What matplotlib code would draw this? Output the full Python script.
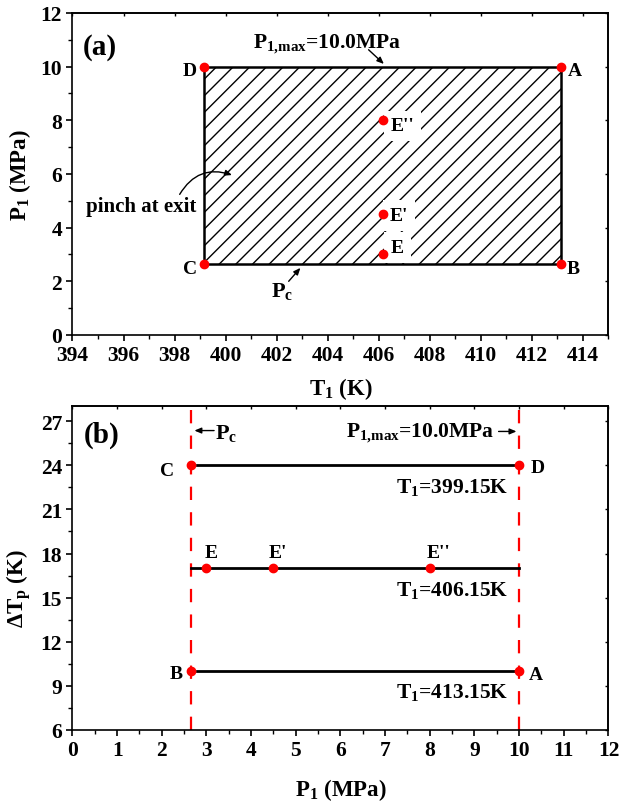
import matplotlib
matplotlib.use("Agg")
import matplotlib.pyplot as plt
from matplotlib.patches import Rectangle
from matplotlib.ticker import MultipleLocator

plt.rcParams['font.family'] = ['Liberation Serif', 'DejaVu Serif']
plt.rcParams['font.weight'] = 'bold'
plt.rcParams['mathtext.fontset'] = 'custom'
plt.rcParams['mathtext.rm'] = 'Liberation Serif:bold'
plt.rcParams['mathtext.it'] = 'Liberation Serif:bold'
plt.rcParams['mathtext.bf'] = 'Liberation Serif:bold'
plt.rcParams['hatch.linewidth'] = 1.0

# ---- data ----
point_labels = ['A', 'B', 'C', 'D', 'E', "E'", "E''"]
T1_values = [413.15, 413.15, 399.15, 399.15, 406.15, 406.15, 406.15]   # K
P1_values = [10.0, 2.65, 2.65, 10.0, 3.0, 4.5, 8.0]                    # MPa
dTp_values = [10, 10, 24, 24, 17, 17, 17]                              # K
P_c = 2.65
P_max = 10.0
T1_lines = [399.15, 406.15, 413.15]
dTp_lines = [24, 17, 10]
line_start = [2.78, 2.65, 2.78]

fig = plt.figure(figsize=(6.19, 8.03), dpi=100)
axA = fig.add_axes([0.1171, 0.5816, 0.8659, 0.4010])
axB = fig.add_axes([0.1171, 0.0897, 0.8659, 0.4029])

TICK_FS = 15.5
ANN = dict(arrowstyle='-|>,head_length=0.4,head_width=0.17', color='black',
           lw=1.0, shrinkA=0, shrinkB=0)
PMAX_TXT = r'P$_{1{,}max}$=10.0MPa'


def style(ax, xmaj, xmin, ymaj, ymin):
    ax.xaxis.set_major_locator(MultipleLocator(xmaj))
    ax.xaxis.set_minor_locator(MultipleLocator(xmin))
    ax.yaxis.set_major_locator(MultipleLocator(ymaj))
    ax.yaxis.set_minor_locator(MultipleLocator(ymin))
    for s in ax.spines.values():
        s.set_linewidth(1.2)
    ax.tick_params(which='major', direction='out', length=4.5, width=1.2,
                   labelsize=TICK_FS, pad=3)
    ax.tick_params(which='minor', direction='out', length=2.8, width=1.0)
    # small ticks on top and right spines
    top = ax.secondary_xaxis('top')
    top.xaxis.set_major_locator(MultipleLocator(xmaj))
    top.tick_params(which='major', direction='in', length=2.0, width=1.0,
                    labeltop=False)
    right = ax.secondary_yaxis('right')
    right.yaxis.set_major_locator(MultipleLocator(ymaj))
    right.tick_params(which='major', direction='in', length=2.0, width=1.0,
                      labelright=False)
    for sec in (top, right):
        for s in sec.spines.values():
            s.set_linewidth(1.2)


# ---------------- panel (a) ----------------
axA.set_xlim(394, 415)
axA.set_ylim(0, 12)
style(axA, 2, 1, 2, 1)

Tmin, Tmax = min(T1_values), max(T1_values)
rect = Rectangle((Tmin, P_c), Tmax - Tmin, P_max - P_c, fill=False,
                 hatch='//', edgecolor='black', linewidth=1.8, zorder=2)
axA.add_patch(rect)
axA.plot(T1_values, P1_values, 'o', color='red', markersize=6, zorder=6)

offsA = {'A': (5, -3, 'left'), 'B': (4, -3, 'left'), 'C': (-5, -3.5, 'right'),
         'D': (-5, -3, 'right'), 'E': (6, 5, 'left'), "E'": (5, -1, 'left'),
         "E''": (6, -4, 'left')}
for lab, t, p in zip(point_labels, T1_values, P1_values):
    dx, dy, ha = offsA[lab]
    kw = {}
    if lab.startswith('E'):
        kw['bbox'] = dict(boxstyle='square,pad=0.35', fc='white', ec='none')
    axA.annotate(lab, (t, p), xytext=(dx, dy), textcoords='offset points',
                 ha=ha, va='center', fontsize=14, fontweight='bold', zorder=5, **kw)

axA.text(394.4, 10.75, '(a)', fontsize=21, fontweight='bold', va='center', ha='left')
axA.text(404.0, 10.85, PMAX_TXT, fontsize=15.5, fontweight='bold',
         ha='center', va='center')
axA.annotate('', xy=(406.2, 10.1), xytext=(405.6, 10.63), arrowprops=ANN)
axA.text(402.2, 1.65, r'P$_c$', fontsize=16, fontweight='bold', ha='center', va='center')
axA.annotate('', xy=(402.93, 2.5), xytext=(402.47, 2.0), arrowprops=ANN)
axA.text(396.7, 4.8, 'pinch at exit', fontsize=15, fontweight='bold', ha='center',
         va='center')
axA.annotate('', xy=(400.25, 5.96), xytext=(398.2, 5.24),
             arrowprops=dict(ANN, connectionstyle='arc3,rad=-0.4'))

axA.set_xlabel(r'T$_1$ (K)', fontsize=16.5, fontweight='bold', labelpad=7)
axA.set_ylabel(r'P$_1$ (MPa)', fontsize=16.5, fontweight='bold', labelpad=5)

# ---------------- panel (b) ----------------
axB.set_xlim(0, 12)
axB.set_ylim(6, 28)
style(axB, 1, 0.5, 3, 1.5)

for xv in [P_c, P_max]:
    axB.axvline(xv, color='red', lw=1.6, dashes=(6, 5.5), zorder=2)

for t, d, x0 in zip(T1_lines, dTp_lines, line_start):
    axB.plot([x0, P_max], [d, d], color='black', lw=2.0, zorder=3)
    axB.annotate(f'T$_1$={t}K', (8.5, d), xytext=(0, -15), textcoords='offset points',
                 ha='center', va='center', fontsize=15.5, fontweight='bold')

axB.plot(P1_values, dTp_values, 'o', color='red', markersize=6, zorder=6)

offsB = {'A': (7, -2.7, 'left'), 'B': (-6, -1.4, 'right'),
         'C': (-12, -4, 'right'), 'D': (8, -1.5, 'left'),
         'E': (3, 11, 'center'), "E'": (3, 11, 'center'),
         "E''": (6.5, 11, 'center')}
for lab, p, d in zip(point_labels, P1_values, dTp_values):
    dx, dy, ha = offsB[lab]
    axB.annotate(lab, (p, d), xytext=(dx, dy), textcoords='offset points',
                 ha=ha, va='center', fontsize=14, fontweight='bold', zorder=5)

axB.text(0.25, 26.1, '(b)', fontsize=21, fontweight='bold', va='center', ha='left')
axB.text(3.2, 26.2, r'P$_c$', fontsize=16, fontweight='bold', ha='left', va='center')
axB.annotate('', xy=(2.73, 26.36), xytext=(3.17, 26.36), arrowprops=ANN)
axB.text(9.45, 26.2, PMAX_TXT, fontsize=15.5, fontweight='bold',
         ha='right', va='center')
axB.annotate('', xy=(9.94, 26.3), xytext=(9.54, 26.3), arrowprops=ANN)

axB.set_xlabel(r'P$_1$ (MPa)', fontsize=16.5, fontweight='bold', labelpad=11)
axB.set_ylabel(r'ΔT$_p$ (K)', fontsize=16.5, fontweight='bold')
axB.yaxis.set_label_coords(-0.074, 0.44)

for ax in (axA, axB):
    for t in ax.get_xticklabels() + ax.get_yticklabels():
        t.set_fontweight('bold')

fig.savefig('out.png', dpi=100)
